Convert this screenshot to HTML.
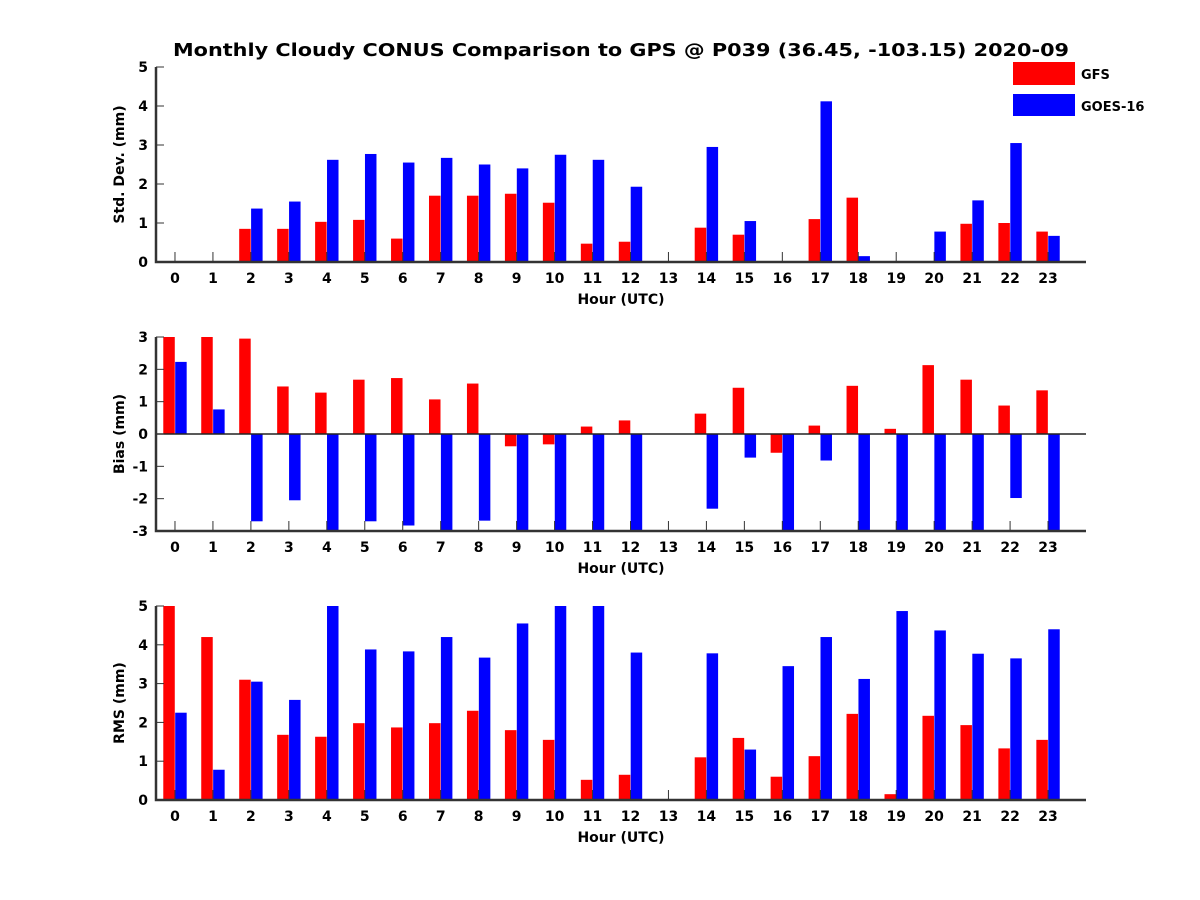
<!DOCTYPE html>
<html><head><meta charset="utf-8"><style>body{margin:0;background:#fff}svg{display:block;font-family:"DejaVu Sans","Liberation Sans",sans-serif;font-weight:bold}</style></head>
<body>
<svg id="c" width="1200" height="900">
<text x="621" y="56" text-anchor="middle" font-size="18" textLength="896" lengthAdjust="spacingAndGlyphs">Monthly Cloudy CONUS Comparison to GPS @ P039 (36.45, -103.15) 2020-09</text>
<g>
<rect x="1013" y="62" width="62" height="23" fill="#f00"/>
<text x="1081" y="79" font-size="13">GFS</text>
<rect x="1013" y="94" width="62" height="22" fill="#00f"/>
<text x="1081" y="111" font-size="13">GOES-16</text>
</g>
</svg>
<script>
const hours=[0,1,2,3,4,5,6,7,8,9,10,11,12,13,14,15,16,17,18,19,20,21,22,23];
const stdGFS=[0,0,0.85,0.85,1.03,1.08,0.6,1.7,1.7,1.75,1.52,0.47,0.52,0,0.88,0.7,0,1.1,1.65,0,0.02,0.98,1.0,0.78];
const stdGOES=[0,0,1.37,1.55,2.62,2.77,2.55,2.67,2.5,2.4,2.75,2.62,1.93,0,2.95,1.05,0,4.12,0.15,0,0.78,1.58,3.05,0.67];
const biasGFS=[3.2,3.2,2.95,1.47,1.28,1.68,1.73,1.07,1.56,-0.38,-0.32,0.23,0.42,0,0.63,1.43,-0.58,0.26,1.49,0.16,2.13,1.68,0.88,1.35];
const biasGOES=[2.23,0.76,-2.7,-2.05,-3.5,-2.7,-2.83,-3.5,-2.68,-3.5,-3.5,-3.5,-3.5,0,-2.31,-0.73,-3.5,-0.82,-3.5,-3.5,-3.5,-3.5,-1.98,-3.5];
const rmsGFS=[5.2,4.2,3.1,1.68,1.63,1.98,1.87,1.98,2.3,1.8,1.55,0.52,0.65,0,1.1,1.6,0.6,1.13,2.22,0.15,2.17,1.93,1.33,1.55];
const rmsGOES=[2.25,0.78,3.05,2.58,5.2,3.88,3.83,4.2,3.67,4.55,5.2,5.2,3.8,0,3.78,1.3,3.45,4.2,3.12,4.87,4.37,3.77,3.65,4.4];
const stdTicks=[0,1,2,3,4,5];
const biasTicks=[-3,-2,-1,0,1,2,3];
const rmsTicks=[0,1,2,3,4,5];
const svg=document.getElementById('c');
const NS='http://www.w3.org/2000/svg';
function mk(t,a,p){const e=document.createElementNS(NS,t);for(const k in a)e.setAttribute(k,a[k]);(p||svg).appendChild(e);return e;}
const L=156,R=1086;
const xs=h=>L+(h+0.5)*(R-L)/24.5;
function panel(id,top,bot,ymin,ymax,ticks,ylab,red,blue){
  const ys=v=>bot-(v-ymin)/(ymax-ymin)*(bot-top);
  const g=mk('g',{});
  
  
  const cp=mk('clipPath',{id:'cp'+id},g);
  mk('rect',{x:L,y:top,width:R-L,height:bot-top},cp);
  const bars=mk('g',{'clip-path':'url(#cp'+id+')'},g);
  const base=ys(Math.max(0,ymin));
  hours.forEach((h,i)=>{
    [[red[i],-11.7,'#f00','gfs'],[blue[i],0.2,'#00f','goes16']].forEach(([v,dx,c,n])=>{
      const y=ys(v);
      const r=mk('rect',{x:xs(h)+dx,y:Math.min(y,base),width:11.5,height:Math.abs(base-y),fill:c},bars);
      
      
    });
    const tk=mk('line',{x1:xs(h),x2:xs(h),y1:bot,y2:bot-10,stroke:'#333','stroke-width':1},g);
    
    
    const t=mk('text',{x:xs(h),y:bot+21,'text-anchor':'middle','font-size':14},g);
    t.textContent=h;
    
    
  });
  if(ymin<0){const z=mk('line',{x1:L,x2:R,y1:ys(0),y2:ys(0),stroke:'#222','stroke-width':1.5},g);
    }
  ticks.forEach(v=>{
    mk('line',{x1:L,x2:L+8,y1:ys(v),y2:ys(v),stroke:'#333'},g);
    const t=mk('text',{x:L-8,y:ys(v)+5,'text-anchor':'end','font-size':14},g);
    t.textContent=v;
    
    
  });
  const ax=mk('path',{d:`M${L},${top} V${bot} H${R}`,fill:'none',stroke:'#333','stroke-width':2.5},g);
  
  
  const xl=mk('text',{x:621,y:bot+42,'text-anchor':'middle','font-size':14},g);
  xl.textContent='Hour (UTC)';
  
  
  const yl=mk('text',{x:0,y:0,'text-anchor':'middle','font-size':14,transform:`translate(${L-32},${(top+bot)/2}) rotate(-90)`},g);
  yl.textContent=ylab;
  
  
}
panel('std',67,262,0,5,stdTicks,'Std. Dev. (mm)',stdGFS,stdGOES);
panel('bias',337,531,-3,3,biasTicks,'Bias (mm)',biasGFS,biasGOES);
panel('rms',606,800,0,5,rmsTicks,'RMS (mm)',rmsGFS,rmsGOES);
</script>
</body></html>
